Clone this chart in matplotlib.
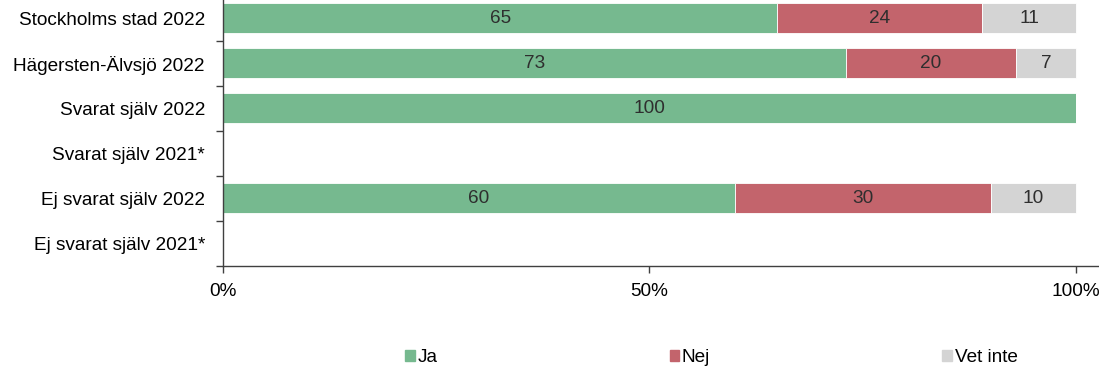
import matplotlib.pyplot as plt
import matplotlib.patches as mpatches
import numpy as np

plt.rcParams['font.family'] = ['Liberation Sans', 'DejaVu Sans']
plt.rcParams['font.size'] = 13.7

groups = ['Stockholms stad 2022', 'Hägersten-Älvsjö 2022', 'Svarat själv 2022',
          'Svarat själv 2021*', 'Ej svarat själv 2022', 'Ej svarat själv 2021*']
ja = [65, 73, 100, 0, 60, 0]
nej = [24, 20, 0, 0, 30, 0]
vet_inte = [11, 7, 0, 0, 10, 0]

series = [('Ja', ja, '#76B98F'), ('Nej', nej, '#C3646C'), ('Vet inte', vet_inte, '#D4D4D4')]

fig = plt.figure(figsize=(10.99, 3.70), dpi=100)
ax = fig.add_axes([223 / 1099, 1 - 266 / 370, 1 - 223 / 1099, 270.5 / 370])

y = np.arange(len(groups))
left = np.zeros(len(groups))
for name, vals, col in series:
    vals = np.array(vals, dtype=float)
    ax.barh(y, vals / 100, left=left / 100, height=0.67, color=col,
            edgecolor='white', linewidth=0.6, label=name)
    for yi, v, l in zip(y, vals, left):
        if v > 0:
            ax.text((l + v / 2) / 100, yi, f'{v:.0f}', ha='center', va='center',
                    color='#2e2e2e', fontsize=13.7)
    left += vals

ax.set_ylim(len(groups) - 0.5, -0.5)
ax.set_xlim(0, 1.027)
ax.set_yticks(y)
ax.set_yticklabels(groups)
ax.set_yticks(np.arange(len(groups) + 1) - 0.5, minor=True)
ax.tick_params(axis='y', which='major', length=0, pad=13)
ax.tick_params(axis='y', which='minor', length=5, width=1, color='#404040')
ax.set_xticks([0, 0.5, 1])
ax.set_xticklabels(['0%', '50%', '100%'])
ax.tick_params(axis='x', length=5, width=1, color='#404040', pad=7)

for s in ['top', 'right']:
    ax.spines[s].set_visible(False)
for s in ['left', 'bottom']:
    ax.spines[s].set_color('#404040')
    ax.spines[s].set_linewidth(1)

handles = [mpatches.Patch(color=c, label=n) for n, _, c in series]
fig.legend(handles=handles, loc='center left', bbox_to_anchor=(405 / 1099, 1 - 358 / 370),
           ncol=3, frameon=False, handlelength=0.5, handleheight=0.5,
           handletextpad=0.15, columnspacing=12.2, borderaxespad=0, borderpad=0)

fig.savefig('out.png', dpi=100)
